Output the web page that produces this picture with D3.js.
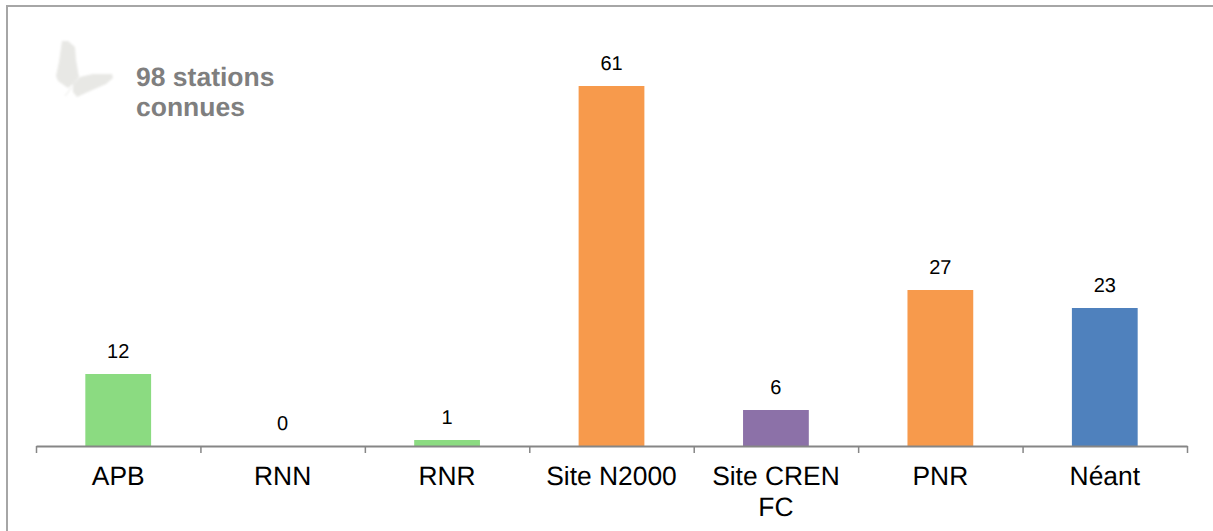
<!DOCTYPE html>
<html>
<head>
<meta charset="utf-8">
<script src="https://cdn.jsdelivr.net/npm/d3@7"></script>
<style>
html,body{margin:0;padding:0;background:#fff;}
svg{display:block;}
text{font-family:"Liberation Sans",Arial,sans-serif;text-rendering:geometricPrecision;}
</style>
</head>
<body>
<svg id="chart" width="1213" height="531"></svg>
<script>
const categories = ["APB","RNN","RNR","Site N2000","Site CREN FC","PNR","Néant"];
const labelValues = [12,0,1,61,6,27,23];
const barHeights = [12,0,1,60,6,26,23];
const barColors = ["#8BDB81","#8BDB81","#8BDB81","#F79A4C","#8C71A8","#F79A4C","#4F81BD"];
const titleLines = ["98 stations","connues"];

const svg = d3.select("#chart");
const width = 1213, height = 531;
const left = 36.5, right = 1187.5, baseY = 446, unit = 6;

// frame (top and left edges only; the right and bottom are cropped)
svg.append("path")
  .attr("d",`M7,${height}V6H${width}`)
  .attr("fill","none").attr("stroke","#a6a6a6").attr("stroke-width",2);

const x = d3.scaleBand().domain(categories).range([left,right]).paddingInner(0.6).paddingOuter(0.3);
const y = d3.scaleLinear().domain([0,61]).range([baseY,baseY-61*unit]);
const rows = categories.map((c,i)=>({c,label:labelValues[i],h:barHeights[i],color:barColors[i]}));

// butterfly watermark
const defs = svg.append("defs");
defs.append("filter").attr("id","soft").append("feGaussianBlur").attr("stdDeviation",1);
const fly = svg.append("g").attr("filter","url(#soft)").attr("fill","#e8e8e5");
fly.append("path").attr("d","M62,41 L68,41 L75,47 L76,60 L79,77 L73,84 L68,88 L58,81 L56,76 L59,62 Z");
fly.append("path").attr("d","M80,77 L93,74 L112,74 L113,78 L106,84 L90,91 L77,97 L73,92 L73,84 Z");
fly.append("path").attr("d","M72,87 L65,96").attr("stroke","#e8e8e5").attr("stroke-width",1).attr("fill","none");

// title
svg.append("text").attr("x",136).attr("y",86)
  .attr("font-size",26.5).attr("font-weight","bold").attr("fill","#7f7f7f")
  .selectAll("tspan").data(titleLines).join("tspan")
  .attr("x",136).attr("dy",(d,i)=>i?30:0).text(d=>d);

// bars
svg.append("g").selectAll("rect").data(rows).join("rect")
  .attr("x",d=>x(d.c)-0.5).attr("width",x.bandwidth())
  .attr("y",d=>y(d.h)).attr("height",d=>baseY-y(d.h))
  .attr("fill",d=>d.color);

// value labels
svg.append("g").selectAll("text").data(rows).join("text")
  .attr("x",d=>x(d.c)+x.bandwidth()/2-0.5)
  .attr("y",d=>y(d.h)-16)
  .attr("text-anchor","middle").attr("font-size",20).attr("fill","#000")
  .text(d=>d.label);

// axis line and boundary ticks
const tickScale = d3.scaleLinear().domain([0,categories.length]).range([left,right]);
const tickAxis = svg.append("g").attr("transform",`translate(-0.5,${baseY})`)
  .call(d3.axisBottom(tickScale).tickValues(d3.range(categories.length+1)).tickSize(7).tickSizeOuter(0).tickFormat(""));
tickAxis.select(".domain").attr("stroke","#868686").attr("stroke-width",2);
tickAxis.selectAll(".tick line").attr("stroke","#868686").attr("stroke-width",1.5);

// category labels
const catAxis = svg.append("g").attr("transform",`translate(-0.5,${baseY})`)
  .call(d3.axisBottom(x).tickSize(0).tickPadding(0));
catAxis.select(".domain").remove();
catAxis.selectAll(".tick text").each(function(d){
  const t = d3.select(this).attr("font-size",26.4).attr("fill","#000").attr("y",0).attr("dy",null);
  t.attr("font-family",null).text(null);
  const lines = x.bandwidth()*2 < d.length*13 ? [d.split(" ").slice(0,2).join(" "),d.split(" ").slice(2).join(" ")] : [d];
  lines.forEach((l,i)=>t.append("tspan").attr("x",0).attr("y",39+i*31).text(l));
});
</script>
</body>
</html>
